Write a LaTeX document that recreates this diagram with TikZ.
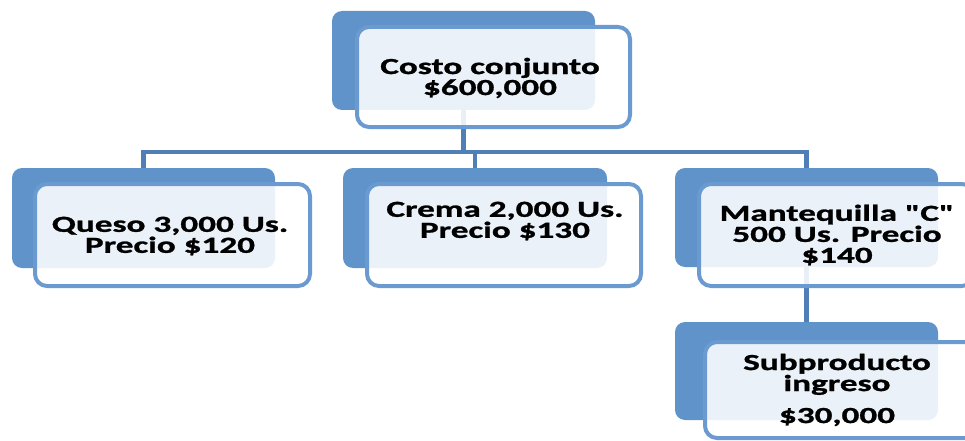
\documentclass[tikz,border=0pt]{standalone}
\usepackage{fontspec}
\setmainfont{Carlito}[FakeStretch=1.53, FakeBold=1.2]
\newfontfamily\qfont{Carlito}[FakeStretch=1.53, FakeBold=1.2]
\newcommand{\sq}{{\qfont\bfseries"}}
\definecolor{backblue}{HTML}{6093C9}
\definecolor{edgeblue}{HTML}{6A9ACF}
\definecolor{linkblue}{HTML}{4F7FB6}
\tikzset{
  backbox/.style={draw=none, fill=backblue, rounded corners=10pt, inner sep=0pt},
  frontbox/.style={draw=edgeblue, line width=4pt, fill=white, fill opacity=0.88, rounded corners=12pt, inner sep=0pt},
  link/.style={draw=linkblue, line width=4.5pt},
  txt/.style={font=\fontsize{23}{21}\selectfont\bfseries, align=center, inner sep=0pt, text=black}
}
\begin{document}
\begin{tikzpicture}[x=1pt,y=-1pt]
\useasboundingbox (0,0) rectangle (965,441);
% back boxes
\node[backbox, minimum width=263pt, minimum height=99pt] (b0) at (463.5,60.5) {};
\node[backbox, minimum width=263pt, minimum height=100pt] (b1) at (143.5,218) {};
\node[backbox, minimum width=264pt, minimum height=100pt] (b2) at (475,218) {};
\node[backbox, minimum width=263pt, minimum height=99pt] (b3) at (806.5,217.5) {};
\node[backbox, minimum width=263pt, minimum height=98pt] (b4) at (806.5,371) {};
% connectors
\draw[link] (b0.south) -- ++(0,42) -| (b1.north);
\draw[link] (b0.south) -- ++(0,42) -| (b2.north);
\draw[link] (b0.south) -- ++(0,42) -| (b3.north);
\draw[link] (b3.south) -- (b4.north);
% front boxes
\node[frontbox, minimum width=273pt, minimum height=100pt] (f0) at (493.5,77) {};
\node[frontbox, minimum width=275pt, minimum height=102pt] (f1) at (172.5,235) {};
\node[frontbox, minimum width=274pt, minimum height=102pt] (f2) at (504,235) {};
\node[frontbox, minimum width=275pt, minimum height=102pt] (f3) at (836.5,235) {};
\node[frontbox, minimum width=275pt, minimum height=96pt] (f4) at (842.5,390) {};
% texts
\node[txt] (t0) at (490,78) {Costo conjunto\\\$600,000};
\node[txt] (t1) at (170,236) {Queso 3,000 Us.\\Precio \$120};
\node[txt] (t2) at (505,221) {Crema 2,000 Us.\\Precio \$130};
\node[txt] (t3) at (837,235) {Mantequilla \sq C\sq\\500 Us. Precio\\\$140};
\node[txt] (t4) at (837,390) {Subproducto\\ingreso\\[11pt]\$30,000};
\end{tikzpicture}
\end{document}
